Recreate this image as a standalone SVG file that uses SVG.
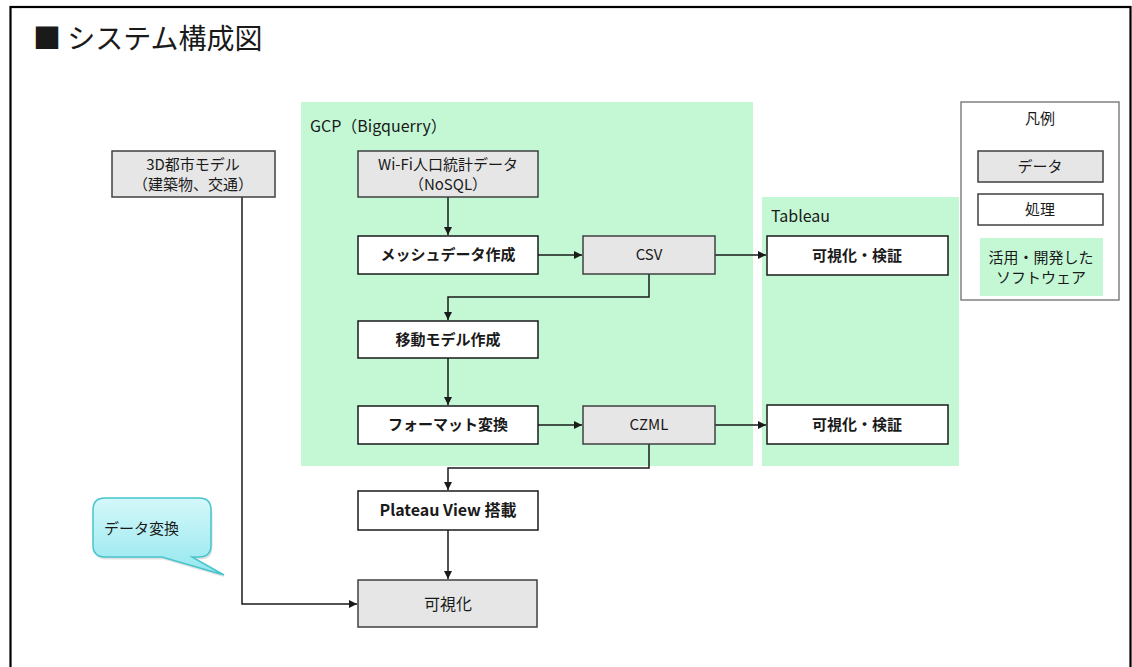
<svg xmlns="http://www.w3.org/2000/svg" width="1132" height="667" viewBox="0 0 1132 667">
<defs>
<style>
text{font-family:"Noto Sans CJK JP","Noto Sans",sans-serif;fill:#1a1a1a;}
.lbl{font-size:15px;text-anchor:middle;}
.b{font-weight:bold;}
.data{fill:#e6e6e6;stroke:#404040;stroke-width:1.5;}
.proc{fill:#ffffff;stroke:#1a1a1a;stroke-width:1.5;}
.zone{fill:#c4f8d5;}
.conn{fill:none;stroke:#1a1a1a;stroke-width:1.5;}
</style>
<marker id="arr" viewBox="0 0 10 10" refX="10" refY="5" markerWidth="8" markerHeight="8" markerUnits="userSpaceOnUse" orient="auto">
<path d="M0,0 L10,5 L0,10 z" fill="#1a1a1a"/>
</marker>
<linearGradient id="cg" x1="0" y1="0" x2="0" y2="1">
<stop offset="0" stop-color="#d4f8fa"/>
<stop offset="1" stop-color="#93e7ee"/>
</linearGradient>
</defs>
<rect x="0" y="0" width="1132" height="667" fill="#ffffff"/>
<rect x="10.5" y="7" width="1120" height="680" fill="none" stroke="#000" stroke-width="2.2"/>
<text x="33" y="49" style="font-size:28px">■ システム構成図</text>

<g id="zones">
<rect class="zone" x="301" y="102" width="452" height="364"/>
<text x="310" y="132" style="font-size:16px">GCP（Bigquerry）</text>
<rect class="zone" x="762" y="197" width="197" height="269"/>
<text x="771" y="222" style="font-size:16px">Tableau</text>
</g>

<g id="legend">
<rect x="961" y="102" width="158" height="198" fill="#fff" stroke="#808080" stroke-width="1.5"/>
<text class="lbl" x="1040" y="124">凡例</text>
<rect class="data" x="978" y="151" width="125" height="31"/>
<text class="lbl" x="1040" y="172">データ</text>
<rect class="proc" x="978" y="194" width="125" height="31" style="stroke:#404040"/>
<text class="lbl" x="1040" y="215">処理</text>
<rect class="zone" x="980" y="238" width="123" height="58"/>
<text class="lbl" x="1041" y="263">活用・開発した</text>
<text class="lbl" x="1041" y="283">ソフトウェア</text>
</g>

<g id="connectors">
<path class="conn" d="M448,197 V235" marker-end="url(#arr)"/>
<path class="conn" d="M538,255 H582" marker-end="url(#arr)"/>
<path class="conn" d="M715,255 H766" marker-end="url(#arr)"/>
<path class="conn" d="M649,274 V297 H448 V320" marker-end="url(#arr)"/>
<path class="conn" d="M448,358 V405" marker-end="url(#arr)"/>
<path class="conn" d="M538,425 H582" marker-end="url(#arr)"/>
<path class="conn" d="M715,425 H766" marker-end="url(#arr)"/>
<path class="conn" d="M649,444 V468 H448 V490" marker-end="url(#arr)"/>
<path class="conn" d="M448,530 V579" marker-end="url(#arr)"/>
<path class="conn" d="M242,197 V604 H357" marker-end="url(#arr)"/>
</g>

<g id="n-3d">
<rect class="data" x="112" y="151" width="163" height="46"/>
<text class="lbl" x="193" y="170">3D都市モデル</text>
<text class="lbl" x="193" y="190">（建築物、交通）</text>
</g>
<g id="n-wifi">
<rect class="data" x="358" y="151" width="180" height="46"/>
<text class="lbl" x="448" y="170">Wi-Fi人口統計データ</text>
<text class="lbl" x="448" y="190">（NoSQL）</text>
</g>
<g id="n-mesh">
<rect class="proc" x="358" y="236" width="180" height="38"/>
<text class="lbl b" x="448" y="260">メッシュデータ作成</text>
</g>
<g id="n-csv">
<rect class="data" x="583" y="236" width="132" height="38"/>
<text class="lbl" x="649" y="260">CSV</text>
</g>
<g id="n-vis1">
<rect class="proc" x="767" y="236" width="181" height="39"/>
<text class="lbl b" x="857" y="261">可視化・検証</text>
</g>
<g id="n-move">
<rect class="proc" x="358" y="321" width="180" height="37"/>
<text class="lbl b" x="448" y="345">移動モデル作成</text>
</g>
<g id="n-format">
<rect class="proc" x="358" y="406" width="180" height="38"/>
<text class="lbl b" x="448" y="430">フォーマット変換</text>
</g>
<g id="n-czml">
<rect class="data" x="583" y="406" width="132" height="38"/>
<text class="lbl" x="649" y="430">CZML</text>
</g>
<g id="n-vis2">
<rect class="proc" x="767" y="405" width="181" height="39"/>
<text class="lbl b" x="857" y="430">可視化・検証</text>
</g>
<g id="n-plateau">
<rect class="proc" x="358" y="491" width="180" height="39"/>
<text class="lbl b" x="448" y="516" style="font-size:16px">Plateau View 搭載</text>
</g>
<g id="n-vis">
<rect class="data" x="358" y="580" width="179" height="47"/>
<text class="lbl" x="448" y="610" style="font-size:16px">可視化</text>
</g>

<g id="callout">
<path d="M105,498 H199 Q211,498 211,510 V545 Q211,557 199,557 H192 L224,575 L162,557 H105 Q93,557 93,545 V510 Q93,498 105,498 Z" fill="#000" opacity="0.12" transform="translate(1.5,2.5)"/>
<path d="M105,498 H199 Q211,498 211,510 V545 Q211,557 199,557 H192 L224,575 L162,557 H105 Q93,557 93,545 V510 Q93,498 105,498 Z" fill="url(#cg)" stroke="#47c4cd" stroke-width="1.5"/>
<text x="104" y="534" style="font-size:15px">データ変換</text>
</g>
</svg>
